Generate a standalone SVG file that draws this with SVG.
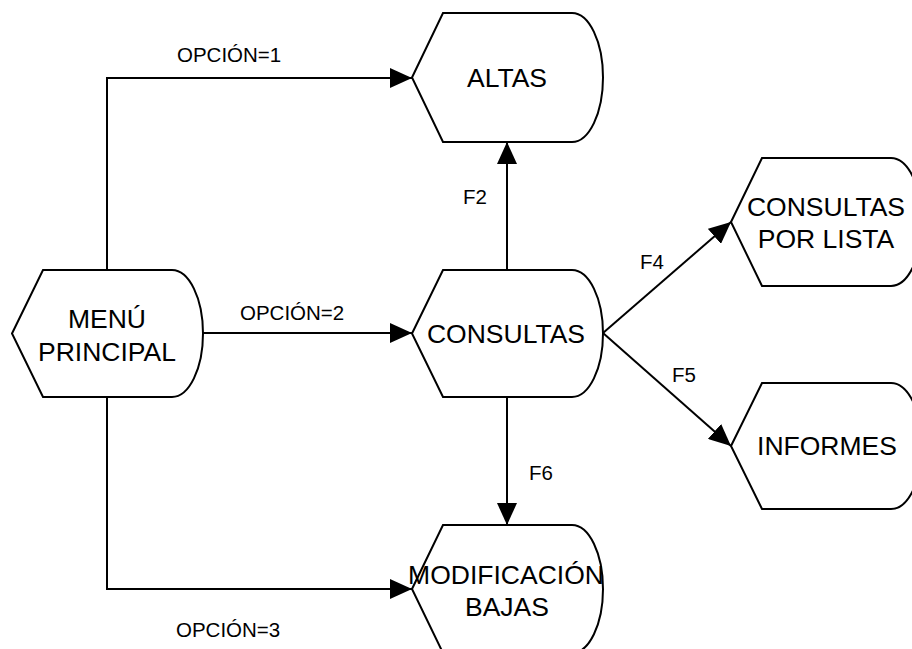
<svg xmlns="http://www.w3.org/2000/svg" width="912" height="649" viewBox="0 0 912 649">
<style>
.shape{fill:#fff;stroke:#000;stroke-width:2}
.node{font-family:"Liberation Sans",Arial,sans-serif;font-size:26.5px;text-anchor:middle;fill:#000}
.lbl{font-family:"Liberation Sans",Arial,sans-serif;font-size:20.5px;fill:#000}
.conn{fill:none;stroke:#000;stroke-width:2}
</style>
<defs>
<marker id="arr" markerUnits="userSpaceOnUse" markerWidth="22" markerHeight="20" refX="22" refY="10" orient="auto">
<path d="M0,0 L22,10 L0,20 Z" fill="#000"/>
</marker>
</defs>
<rect width="912" height="649" fill="#fff"/>
<g id="connectors">
<path class="conn" d="M107,270 V78 H412" marker-end="url(#arr)"/>
<path class="conn" d="M203,333 H412" marker-end="url(#arr)"/>
<path class="conn" d="M107,397 V589 H412" marker-end="url(#arr)"/>
<path class="conn" d="M507,270 V142" marker-end="url(#arr)"/>
<path class="conn" d="M507,397 V525" marker-end="url(#arr)"/>
<path class="conn" d="M603,333 L731,222" marker-end="url(#arr)"/>
<path class="conn" d="M603,333 L731,446" marker-end="url(#arr)"/>
<text class="lbl" x="177" y="62">OPCIÓN=1</text>
<text class="lbl" x="240" y="320">OPCIÓN=2</text>
<text class="lbl" x="176" y="637">OPCIÓN=3</text>
<text class="lbl" x="463" y="204">F2</text>
<text class="lbl" x="640" y="269">F4</text>
<text class="lbl" x="672" y="382">F5</text>
<text class="lbl" x="529" y="480">F6</text>
</g>
<g id="menu">
<path class="shape" d="M12,333.5 L43,270 L172,270 A31,63.5 0 0 1 172,397 L43,397 Z"/>
<text class="node" x="107" y="328">MENÚ</text>
<text class="node" x="107" y="361">PRINCIPAL</text>
</g>
<g id="altas">
<path class="shape" d="M412,77.5 L443,13 L572,13 A31,64.5 0 0 1 572,142 L443,142 Z"/>
<text class="node" x="507" y="87">ALTAS</text>
</g>
<g id="consultas">
<path class="shape" d="M412,333.5 L443,270 L572,270 A31,63.5 0 0 1 572,397 L443,397 Z"/>
<text class="node" x="506" y="343">CONSULTAS</text>
</g>
<g id="modificacion">
<path class="shape" d="M412,589 L443,525 L572,525 A31,64 0 0 1 572,653 L443,653 Z"/>
<text class="node" x="506" y="584">MODIFICACIÓN</text>
<text class="node" x="507" y="616">BAJAS</text>
</g>
<g id="consultas-lista">
<path class="shape" d="M731,222 L762,158 L891,158 A31,64 0 0 1 891,286 L762,286 Z"/>
<text class="node" x="826" y="216">CONSULTAS</text>
<text class="node" x="826" y="248">POR LISTA</text>
</g>
<g id="informes">
<path class="shape" d="M731,446 L762,383 L891,383 A31,63 0 0 1 891,509 L762,509 Z"/>
<text class="node" x="827" y="455">INFORMES</text>
</g>
</svg>
